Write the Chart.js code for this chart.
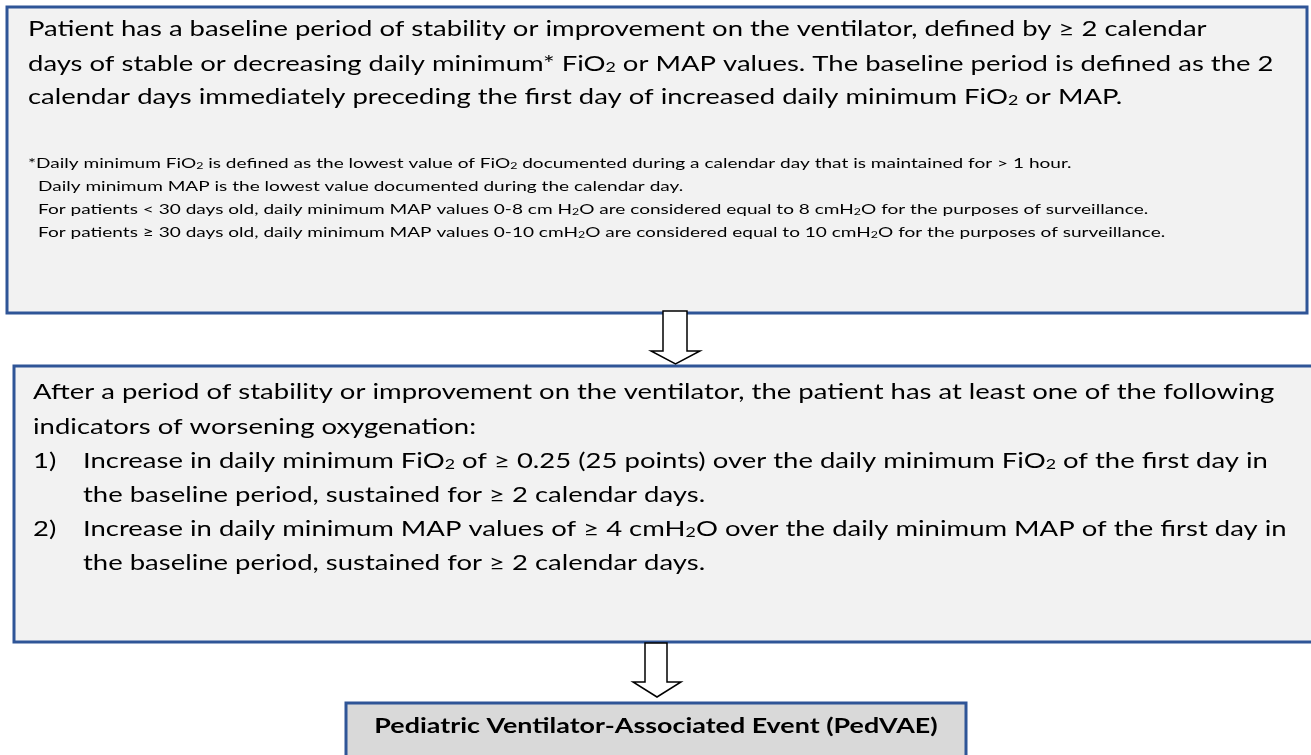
<!DOCTYPE html>
<html>
<head>
<meta charset="utf-8">
<script src="https://cdn.jsdelivr.net/npm/chart.js@4.4.1/dist/chart.umd.min.js"></script>
<style>
  html, body { margin: 0; padding: 0; background: #ffffff; }
  #wrap { width: 1311px; height: 755px; }
</style>
</head>
<body>
<div id="wrap"><canvas id="c" width="1311" height="755"></canvas></div>
<script>
// ---- Content (text of the flowchart) ----
const baselineLines = [
  "Patient has a baseline period of stability or improvement on the ventilator, defined by \u2265 2 calendar",
  "days of stable or decreasing daily minimum* FiO\u2082 or MAP values. The baseline period is defined as the 2",
  "calendar days immediately preceding the first day of increased daily minimum FiO\u2082 or MAP."
];
const footnoteLines = [
  "*Daily minimum FiO\u2082 is defined as the lowest value of FiO\u2082 documented during a calendar day that is maintained for > 1 hour.",
  "Daily minimum MAP is the lowest value documented during the calendar day.",
  "For patients < 30 days old, daily minimum MAP values 0-8 cm H\u2082O are considered equal to 8 cmH\u2082O for the purposes of surveillance.",
  "For patients \u2265 30 days old, daily minimum MAP values 0-10 cmH\u2082O are considered equal to 10 cmH\u2082O for the purposes of surveillance."
];
const worseningIntro = [
  "After a period of stability or improvement on the ventilator, the patient has at least one of the following",
  "indicators of worsening oxygenation:"
];
const criteriaNumbers = ["1)", "2)"];
const criteriaLines = [
  ["Increase in daily minimum FiO\u2082 of \u2265 0.25 (25 points) over the daily minimum FiO\u2082 of the first day in",
   "the baseline period, sustained for \u2265 2 calendar days."],
  ["Increase in daily minimum MAP values of \u2265 4 cmH\u2082O over the daily minimum MAP of the first day in",
   "the baseline period, sustained for \u2265 2 calendar days."]
];
const outcomeLabel = "Pediatric Ventilator-Associated Event (PedVAE)";

// ---- Layout (in axis units; axes span the canvas) ----
const layout = {
  box1: { x0: 7, x1: 1307, y0: 7, y1: 313 },
  box2: { x0: 14, x1: 1325, y0: 366, y1: 642 },
  box3: { x0: 346, x1: 966, y0: 703, y1: 775 },
  arrow1: { sx0: 663, sx1: 687, top: 311, neck: 351, hx0: 651, hx1: 700, tip: 364 },
  arrow2: { sx0: 645, sx1: 667, top: 643, neck: 682, hx0: 633, hx1: 681, tip: 697 },
  baselineY: [29, 64, 97], baselineX: 28,
  footY: [164, 187, 210, 233], footX: [28, 38, 38, 38],
  introY: [392, 427], introX: 33,
  critY: [[461, 495], [529, 563]], numX: 33, critX: 83,
  outcomeY: 726
};
const style = {
  border: "#2f5597",
  fill12: "#f2f2f2",
  fill3: "#d9d9d9",
  font: "Lato, 'Open Sans', sans-serif",
  mainSize: 20.5,
  mainStretch: 1.34,
  noteSize: 13.8,
  noteStretch: 1.38,
  outcomeSize: 20.5,
  outcomeStretch: 1.31
};

function drawRich(ctx, text, x, y, size, bold, k) {
  const parts = text.split("\u2082");
  const w = bold ? "bold " : "";
  ctx.save();
  ctx.translate(x, y);
  ctx.scale(k, 1);
  let cx = 0;
  for (let i = 0; i < parts.length; i++) {
    ctx.font = w + size + "px " + style.font;
    ctx.fillText(parts[i], cx, 0);
    cx += ctx.measureText(parts[i]).width;
    if (i < parts.length - 1) {
      ctx.font = w + (size * 0.65) + "px " + style.font;
      ctx.fillText("2", cx, size * 0.18);
      cx += ctx.measureText("2").width;
    }
  }
  ctx.restore();
  return cx * k;
}
function richWidth(ctx, text, size, bold, k) {
  const parts = text.split("\u2082");
  const w = bold ? "bold " : "";
  let t = 0;
  for (let i = 0; i < parts.length; i++) {
    ctx.font = w + size + "px " + style.font;
    t += ctx.measureText(parts[i]).width;
    if (i < parts.length - 1) {
      ctx.font = w + (size * 0.65) + "px " + style.font;
      t += ctx.measureText("2").width;
    }
  }
  return t * k;
}

const flowPlugin = {
  id: "flow",
  afterDraw(chart) {
    const ctx = chart.ctx;
    const xs = chart.scales.x, ys = chart.scales.y;
    const X = v => xs.getPixelForValue(v);
    const Y = v => ys.getPixelForValue(v);
    ctx.save();
    function box(b, fill) {
      ctx.fillStyle = fill;
      ctx.fillRect(X(b.x0), Y(b.y0), X(b.x1) - X(b.x0), Y(b.y1) - Y(b.y0));
      ctx.strokeStyle = style.border;
      ctx.lineWidth = 3;
      ctx.strokeRect(X(b.x0), Y(b.y0), X(b.x1) - X(b.x0), Y(b.y1) - Y(b.y0));
    }
    function arrow(a) {
      ctx.beginPath();
      ctx.moveTo(X(a.sx0), Y(a.top));
      ctx.lineTo(X(a.sx1), Y(a.top));
      ctx.lineTo(X(a.sx1), Y(a.neck));
      ctx.lineTo(X(a.hx1), Y(a.neck));
      ctx.lineTo(X((a.hx0 + a.hx1) / 2), Y(a.tip));
      ctx.lineTo(X(a.hx0), Y(a.neck));
      ctx.lineTo(X(a.sx0), Y(a.neck));
      ctx.closePath();
      ctx.fillStyle = "#ffffff";
      ctx.fill();
      ctx.strokeStyle = "#000000";
      ctx.lineWidth = 1.5;
      ctx.stroke();
    }
    box(layout.box1, style.fill12);
    box(layout.box2, style.fill12);
    box(layout.box3, style.fill3);
    arrow(layout.arrow1);
    arrow(layout.arrow2);

    ctx.fillStyle = "#000000";
    ctx.textBaseline = "middle";
    ctx.textAlign = "left";
    const M = style.mainSize, MK = style.mainStretch;
    baselineLines.forEach((t, i) => drawRich(ctx, t, X(layout.baselineX), Y(layout.baselineY[i]), M, false, MK));
    footnoteLines.forEach((t, i) => drawRich(ctx, t, X(layout.footX[i]), Y(layout.footY[i]), style.noteSize, false, style.noteStretch));
    worseningIntro.forEach((t, i) => drawRich(ctx, t, X(layout.introX), Y(layout.introY[i]), M, false, MK));
    criteriaLines.forEach((pair, k) => {
      drawRich(ctx, criteriaNumbers[k], X(layout.numX), Y(layout.critY[k][0]), M, false, MK);
      pair.forEach((t, i) => drawRich(ctx, t, X(layout.critX), Y(layout.critY[k][i]), M, false, MK));
    });
    const b3 = layout.box3;
    const w = richWidth(ctx, outcomeLabel, style.outcomeSize, true, style.outcomeStretch);
    drawRich(ctx, outcomeLabel, (X(b3.x0) + X(b3.x1)) / 2 - w / 2, Y(layout.outcomeY), style.outcomeSize, true, style.outcomeStretch);
    ctx.restore();
  }
};

new Chart(document.getElementById("c"), {
  type: "scatter",
  data: { datasets: [] },
  options: {
    responsive: false,
    animation: false,
    devicePixelRatio: 1,
    layout: { padding: 0 },
    scales: {
      x: { type: "linear", min: 0, max: 1311, display: false },
      y: { type: "linear", min: 0, max: 755, reverse: true, display: false }
    },
    plugins: { legend: { display: false }, tooltip: { enabled: false } }
  },
  plugins: [flowPlugin]
});
</script>
</body>
</html>
